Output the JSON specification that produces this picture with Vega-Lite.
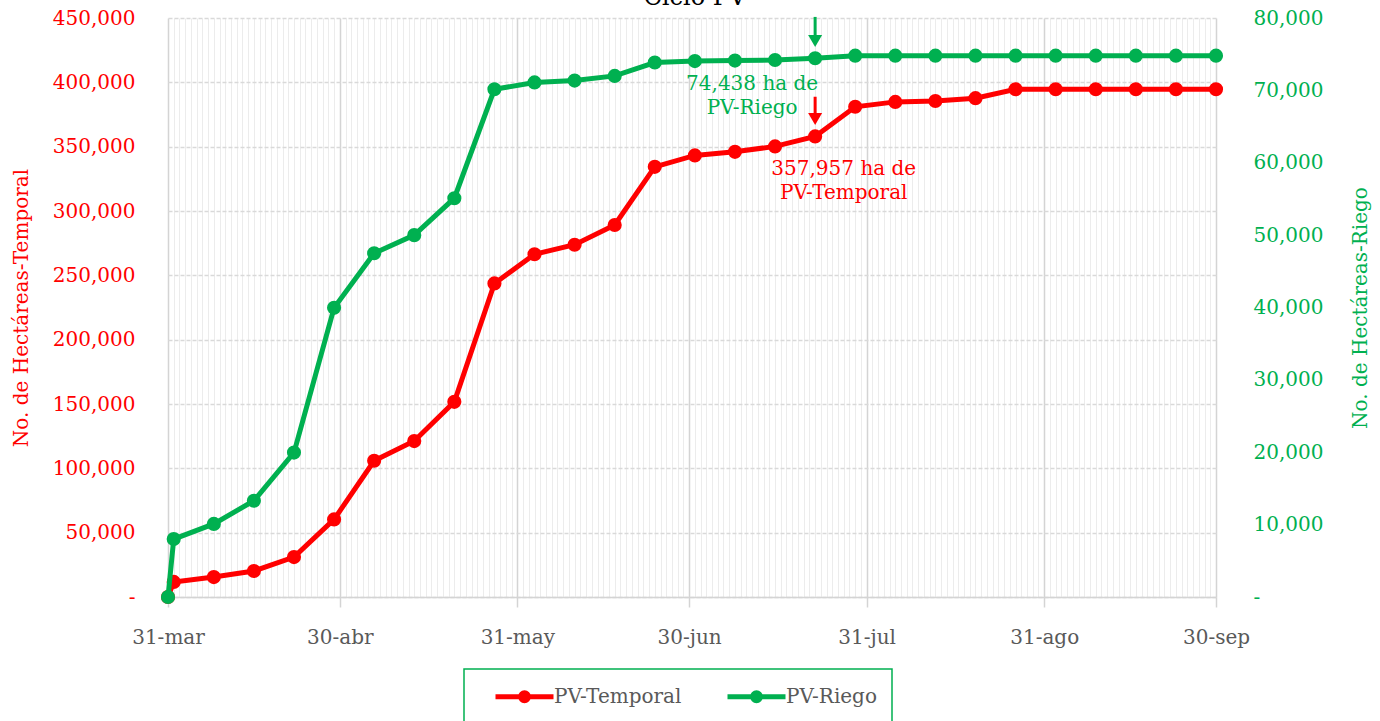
{
  "$schema": "https://vega.github.io/schema/vega-lite/v6.json",
  "autosize": "none",
  "width": 1048,
  "height": 579,
  "padding": {"left": 168, "top": 18, "right": 164, "bottom": 124},
  "background": "white",
  "config": {
    "font": "DejaVu Serif",
    "view": {"stroke": null}
  },
  "datasets": {
    "series": [
      {"date": "2020-03-31", "serie": "PV-Temporal", "ha": 0},
      {"date": "2020-04-01", "serie": "PV-Temporal", "ha": 11700},
      {"date": "2020-04-08", "serie": "PV-Temporal", "ha": 15500},
      {"date": "2020-04-15", "serie": "PV-Temporal", "ha": 20200},
      {"date": "2020-04-22", "serie": "PV-Temporal", "ha": 31000},
      {"date": "2020-04-29", "serie": "PV-Temporal", "ha": 60300},
      {"date": "2020-05-06", "serie": "PV-Temporal", "ha": 105900},
      {"date": "2020-05-13", "serie": "PV-Temporal", "ha": 121200},
      {"date": "2020-05-20", "serie": "PV-Temporal", "ha": 151700},
      {"date": "2020-05-27", "serie": "PV-Temporal", "ha": 243700},
      {"date": "2020-06-03", "serie": "PV-Temporal", "ha": 266400},
      {"date": "2020-06-10", "serie": "PV-Temporal", "ha": 273800},
      {"date": "2020-06-17", "serie": "PV-Temporal", "ha": 289100},
      {"date": "2020-06-24", "serie": "PV-Temporal", "ha": 334300},
      {"date": "2020-07-01", "serie": "PV-Temporal", "ha": 343200},
      {"date": "2020-07-08", "serie": "PV-Temporal", "ha": 346000},
      {"date": "2020-07-15", "serie": "PV-Temporal", "ha": 350200},
      {"date": "2020-07-22", "serie": "PV-Temporal", "ha": 357957},
      {"date": "2020-07-29", "serie": "PV-Temporal", "ha": 381000},
      {"date": "2020-08-05", "serie": "PV-Temporal", "ha": 384800},
      {"date": "2020-08-12", "serie": "PV-Temporal", "ha": 385500},
      {"date": "2020-08-19", "serie": "PV-Temporal", "ha": 387700},
      {"date": "2020-08-26", "serie": "PV-Temporal", "ha": 394600},
      {"date": "2020-09-02", "serie": "PV-Temporal", "ha": 394600},
      {"date": "2020-09-09", "serie": "PV-Temporal", "ha": 394600},
      {"date": "2020-09-16", "serie": "PV-Temporal", "ha": 394600},
      {"date": "2020-09-23", "serie": "PV-Temporal", "ha": 394600},
      {"date": "2020-09-30", "serie": "PV-Temporal", "ha": 394600},
      {"date": "2020-03-31", "serie": "PV-Riego", "ha": 0},
      {"date": "2020-04-01", "serie": "PV-Riego", "ha": 8000},
      {"date": "2020-04-08", "serie": "PV-Riego", "ha": 10100},
      {"date": "2020-04-15", "serie": "PV-Riego", "ha": 13300},
      {"date": "2020-04-22", "serie": "PV-Riego", "ha": 19950},
      {"date": "2020-04-29", "serie": "PV-Riego", "ha": 39950},
      {"date": "2020-05-06", "serie": "PV-Riego", "ha": 47500},
      {"date": "2020-05-13", "serie": "PV-Riego", "ha": 50000},
      {"date": "2020-05-20", "serie": "PV-Riego", "ha": 55100},
      {"date": "2020-05-27", "serie": "PV-Riego", "ha": 70150},
      {"date": "2020-06-03", "serie": "PV-Riego", "ha": 71100},
      {"date": "2020-06-10", "serie": "PV-Riego", "ha": 71350},
      {"date": "2020-06-17", "serie": "PV-Riego", "ha": 72000},
      {"date": "2020-06-24", "serie": "PV-Riego", "ha": 73850},
      {"date": "2020-07-01", "serie": "PV-Riego", "ha": 74050},
      {"date": "2020-07-08", "serie": "PV-Riego", "ha": 74120},
      {"date": "2020-07-15", "serie": "PV-Riego", "ha": 74200},
      {"date": "2020-07-22", "serie": "PV-Riego", "ha": 74438},
      {"date": "2020-07-29", "serie": "PV-Riego", "ha": 74800},
      {"date": "2020-08-05", "serie": "PV-Riego", "ha": 74800},
      {"date": "2020-08-12", "serie": "PV-Riego", "ha": 74800},
      {"date": "2020-08-19", "serie": "PV-Riego", "ha": 74800},
      {"date": "2020-08-26", "serie": "PV-Riego", "ha": 74800},
      {"date": "2020-09-02", "serie": "PV-Riego", "ha": 74800},
      {"date": "2020-09-09", "serie": "PV-Riego", "ha": 74800},
      {"date": "2020-09-16", "serie": "PV-Riego", "ha": 74800},
      {"date": "2020-09-23", "serie": "PV-Riego", "ha": 74800},
      {"date": "2020-09-30", "serie": "PV-Riego", "ha": 74800}
    ],
    "chartTitle": [
      {"date": "2020-07-01", "ha": 460100, "label": "Ciclo PV"}
    ],
    "notesTemporal": [
      {"date": "2020-07-27", "ha": 328000, "label": ["357,957 ha de", "PV-Temporal"]}
    ],
    "arrowTemporal": [
      {"date": "2020-07-22", "top": 388800, "tip": 371500}
    ],
    "notesRiego": [
      {"date": "2020-07-11", "ha": 70000, "label": ["74,438 ha de", "PV-Riego"]}
    ],
    "arrowRiego": [
      {"date": "2020-07-22", "top": 80150, "tip": 76820}
    ]
  },
  "encoding": {
    "x": {
      "field": "date",
      "type": "temporal",
      "scale": {
        "type": "utc",
        "domain": [
          {"year": 2020, "month": 3, "date": 31, "utc": true},
          {"year": 2020, "month": 9, "date": 30, "utc": true}
        ],
        "nice": false
      },
      "axis": {
        "title": null,
        "orient": "bottom",
        "tickCount": {"interval": "day", "step": 1},
        "grid": true,
        "gridColor": {"condition": {"test": "utcdate(time(datum.value) + 86400000) === 1", "value": "#d4d4d4"}, "value": "#ececec"},
        "gridWidth": {"condition": {"test": "utcdate(time(datum.value) + 86400000) === 1", "value": 1.5}, "value": 1},
        "ticks": true,
        "tickSize": 10,
        "tickColor": "#d4d4d4",
        "tickWidth": 1.5,
        "tickOpacity": {"condition": {"test": "utcdate(time(datum.value) + 86400000) === 1", "value": 1}, "value": 0},
        "domain": true,
        "domainColor": "#d4d4d4",
        "domainWidth": 1.5,
        "labelExpr": "utcdate(time(datum.value) + 86400000) === 1 ? utcdate(datum.value) + '-' + ['ene','feb','mar','abr','may','jun','jul','ago','sep','oct','nov','dic'][utcmonth(datum.value)] : ''",
        "labelOverlap": false,
        "labelFlush": false,
        "labelBound": false,
        "labelFont": "DejaVu Serif",
        "labelFontSize": 20,
        "labelColor": "#595959",
        "labelPadding": 20
      }
    }
  },
  "layer": [
    {
      "data": {"name": "series"},
      "transform": [{"filter": "datum.serie === 'PV-Temporal'"}],
      "mark": {"type": "line", "strokeWidth": 5, "point": {"filled": true, "size": 200}},
      "encoding": {
        "y": {
          "field": "ha",
          "type": "quantitative",
          "scale": {"domain": [0, 450000], "nice": false, "zero": true},
          "axis": {
            "orient": "left",
            "title": "No. de Hectáreas-Temporal",
            "titleColor": "#ff0000",
            "titleFont": "DejaVu Serif",
            "titleFontSize": 20,
            "titleFontWeight": "normal",
            "titlePadding": 21,
            "values": [0, 50000, 100000, 150000, 200000, 250000, 300000, 350000, 400000, 450000],
            "format": ",d",
            "labelExpr": "datum.value === 0 ? '-\u00a0\u00a0' : datum.label",
            "labelFont": "DejaVu Serif",
            "labelFontSize": 20,
            "labelColor": "#ff0000",
            "labelPadding": 33,
            "ticks": false,
            "domain": false,
            "grid": true,
            "gridColor": "#d9d9d9",
            "gridDash": [4, 2],
            "gridWidth": 1.5
          }
        },
        "color": {
          "field": "serie",
          "type": "nominal",
          "scale": {"domain": ["PV-Temporal", "PV-Riego"], "range": ["#ff0000", "#00b050"]},
          "legend": {
            "orient": "none",
            "legendX": 296,
            "legendY": 651,
            "direction": "horizontal",
            "title": null,
            "strokeColor": "#00b050",
            "fillColor": "#ffffff",
            "padding": 15,
            "symbolType": "M-2.9,0H2.9M-0.4,0A0.4,0.4,0,1,1,0.4,0A0.4,0.4,0,1,1,-0.4,0Z",
            "symbolSize": 400,
            "symbolStrokeWidth": 5,
            "labelFont": "DejaVu Serif",
            "labelFontSize": 20,
            "labelColor": "#595959",
            "labelOffset": 17,
            "columnPadding": 29,
            "symbolOffset": 33,
            "encode": {
              "legend": {"update": {"strokeWidth": {"value": 1.5}}},
              "symbols": {"update": {"fill": {"scale": "color", "field": "value"}, "stroke": {"scale": "color", "field": "value"}}}
            }
          }
        }
      }
    },
    {
      "data": {"name": "chartTitle"},
      "mark": {"type": "text", "font": "DejaVu Serif", "fontSize": 24, "color": "#000000", "align": "center", "baseline": "alphabetic", "clip": false},
      "encoding": {
        "y": {"field": "ha", "type": "quantitative", "scale": {"domain": [0, 450000], "nice": false}, "axis": null},
        "text": {"field": "label"}
      }
    },
    {
      "data": {"name": "notesTemporal"},
      "mark": {"type": "text", "font": "DejaVu Serif", "fontSize": 20, "color": "#ff0000", "align": "center", "baseline": "alphabetic", "lineHeight": 24},
      "encoding": {
        "y": {"field": "ha", "type": "quantitative", "scale": {"domain": [0, 450000], "nice": false}, "axis": null},
        "text": {"field": "label"}
      }
    },
    {
      "data": {"name": "arrowTemporal"},
      "mark": {"type": "rule", "color": "#ff0000", "strokeWidth": 3},
      "encoding": {
        "y": {"field": "top", "type": "quantitative", "scale": {"domain": [0, 450000], "nice": false}, "axis": null},
        "y2": {"field": "tip"}
      }
    },
    {
      "data": {"name": "arrowTemporal"},
      "mark": {"type": "point", "shape": "triangle-down", "filled": true, "color": "#ff0000", "size": 196, "opacity": 1},
      "encoding": {
        "y": {"field": "tip", "type": "quantitative", "scale": {"domain": [0, 450000], "nice": false}, "axis": null}
      }
    },
    {
      "data": {"name": "series"},
      "transform": [{"filter": "datum.serie === 'PV-Riego'"}],
      "mark": {"type": "line", "strokeWidth": 5, "point": {"filled": true, "size": 200}},
      "encoding": {
        "y": {
          "field": "ha",
          "type": "quantitative",
          "scale": {"domain": [0, 80000], "nice": false, "zero": true},
          "axis": {
            "orient": "right",
            "title": "No. de Hectáreas-Riego",
            "titleColor": "#00b050",
            "titleFont": "DejaVu Serif",
            "titleFontSize": 20,
            "titleFontWeight": "normal",
            "titleAngle": 270,
            "titlePadding": 48,
            "values": [0, 10000, 20000, 30000, 40000, 50000, 60000, 70000, 80000],
            "format": ",d",
            "labelExpr": "datum.value === 0 ? '-' : datum.label",
            "labelFont": "DejaVu Serif",
            "labelFontSize": 20,
            "labelColor": "#00b050",
            "labelPadding": 37,
            "ticks": false,
            "domain": false,
            "grid": false
          }
        },
        "color": {
          "field": "serie",
          "type": "nominal",
          "scale": {"domain": ["PV-Temporal", "PV-Riego"], "range": ["#ff0000", "#00b050"]},
          "legend": null
        }
      }
    },
    {
      "data": {"name": "notesRiego"},
      "mark": {"type": "text", "font": "DejaVu Serif", "fontSize": 20, "color": "#00b050", "align": "center", "baseline": "alphabetic", "lineHeight": 24},
      "encoding": {
        "y": {"field": "ha", "type": "quantitative", "scale": {"domain": [0, 80000], "nice": false}, "axis": null},
        "text": {"field": "label"}
      }
    },
    {
      "data": {"name": "arrowRiego"},
      "mark": {"type": "rule", "color": "#00b050", "strokeWidth": 3, "clip": false},
      "encoding": {
        "y": {"field": "top", "type": "quantitative", "scale": {"domain": [0, 80000], "nice": false}, "axis": null},
        "y2": {"field": "tip"}
      }
    },
    {
      "data": {"name": "arrowRiego"},
      "mark": {"type": "point", "shape": "triangle-down", "filled": true, "color": "#00b050", "size": 196, "opacity": 1},
      "encoding": {
        "y": {"field": "tip", "type": "quantitative", "scale": {"domain": [0, 80000], "nice": false}, "axis": null}
      }
    }
  ],
  "resolve": {"scale": {"y": "independent"}}
}
